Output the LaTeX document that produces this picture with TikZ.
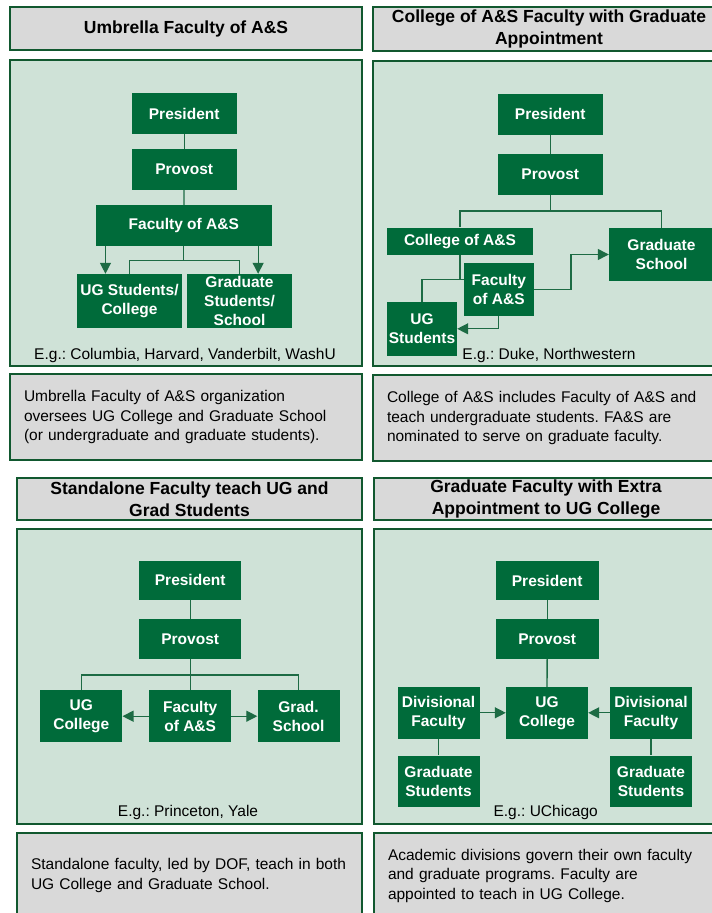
\documentclass[tikz,border=0pt]{standalone}
\usepackage{fontspec}
\setmainfont{Liberation Sans}
\usetikzlibrary{arrows.meta}
\definecolor{dkgreen}{HTML}{006B3A}
\definecolor{bordergreen}{HTML}{11582F}
\definecolor{panelfill}{HTML}{CFE2D7}
\definecolor{titlegray}{HTML}{D9D9D9}
\definecolor{linegreen}{HTML}{1D6B44}
\frenchspacing
\begin{document}
\begin{tikzpicture}[x=1pt,y=-1pt,
  gbox/.style={fill=dkgreen, draw=none, text=white, inner sep=0pt, align=center,
    font=\bfseries\fontsize{15.5}{19}\selectfont},
  titlebox/.style={fill=titlegray, draw=bordergreen, line width=1.5pt, inner sep=0pt, align=center,
    font=\bfseries\fontsize{17.5}{21.5}\selectfont},
  panel/.style={fill=panelfill, draw=bordergreen, line width=1.5pt, inner sep=0pt},
  textbox/.style={fill=titlegray, draw=bordergreen, line width=1.5pt, inner xsep=14pt, inner ysep=0pt,
    align=left, font=\fontsize{15.5}{19.5}\selectfont},
  captext/.style={inner sep=0pt, font=\fontsize{15.5}{19}\selectfont},
  conn/.style={draw=linegreen, line width=1.3pt},
  arr/.style={conn, -{Triangle[width=11pt,length=11pt]}}
]
\useasboundingbox (0,0) rectangle (712,913);

% ===== Top-left =====
\node[titlebox, minimum width=352pt, minimum height=43pt] (tltitle) at (186,28.5) {Umbrella Faculty of A\&S};
\node[panel, minimum width=352pt, minimum height=306pt] (tlpanel) at (186,213) {};
\node[textbox, minimum height=86pt, text width=324pt] (tltext) at (186,417)
  {Umbrella Faculty of A\&S organization\\oversees UG College and Graduate School\\(or undergraduate and graduate students).};

\node[gbox, minimum width=105pt, minimum height=41pt] (tlpres) at (184.2,113.7) {President};
\node[gbox, minimum width=105pt, minimum height=41pt] (tlprov) at (184.2,169.5) {Provost};
\node[gbox, minimum width=175.7pt, minimum height=41pt] (tlfac) at (183.8,225.5) {Faculty of A\&S};
\node[gbox, minimum width=105pt, minimum height=54pt] (tlug) at (129.5,301) {UG Students/\\College};
\node[gbox, minimum width=105pt, minimum height=54pt] (tlgr) at (239.5,301) {Graduate\\Students/\\School};
\coordinate (tlj) at (183.8,260.5);
\draw[conn] (tlpres) -- (tlprov);
\draw[conn] (tlprov) -- (tlfac);
\draw[conn] (tlfac.south) -- (tlj);
\draw[conn] (tlug.north) |- (tlj) -| (tlgr.north);
\coordinate (tla1) at ([xshift=9.7pt]tlfac.south west);
\coordinate (tla2) at ([xshift=-13.7pt]tlfac.south east);
\draw[arr] (tla1) -- (tla1 |- tlug.north);
\draw[arr] (tla2) -- (tla2 |- tlgr.north);
\node[captext] (tlcap) at (185,355) {E.g.: Columbia, Harvard, Vanderbilt, WashU};

% ===== Top-right =====
\node[titlebox, minimum width=352pt, minimum height=44pt] (trtitle) at (549,29) {College of A\&S Faculty with Graduate\\Appointment};
\node[panel, minimum width=352pt, minimum height=305pt] (trpanel) at (549,213.5) {};
\node[textbox, minimum height=86pt, text width=324pt] (trtext) at (549,418)
  {College of A\&S includes Faculty of A\&S and\\teach undergraduate students. FA\&S are\\nominated to serve on graduate faculty.};

\node[gbox, minimum width=105pt, minimum height=41pt] (trpres) at (550.3,114.3) {President};
\node[gbox, minimum width=105pt, minimum height=41pt] (trprov) at (550.3,174.5) {Provost};
\node[gbox, minimum width=146.7pt, minimum height=27.5pt] (trcol) at (460,241.3) {College of A\&S};
\node[gbox, minimum width=105pt, minimum height=53pt] (trgs) at (661.5,254.5) {Graduate\\School};
\node[gbox, minimum width=70pt, minimum height=53.3pt] (trfac) at (498.8,289.3) {Faculty\\of A\&S};
\node[gbox, minimum width=70pt, minimum height=53.7pt] (trug) at (422,328.8) {UG\\Students};
\coordinate (trj) at (550.3,211);
\coordinate (trk) at (460,279.3);
\coordinate (trm) at (571,289.3);
\draw[conn] (trpres) -- (trprov);
\draw[conn] (trprov.south) -- (trj);
\draw[conn] (trcol.north) |- (trj) -| (trgs.north);
\draw[conn] (trcol.south) -- (trk);
\draw[conn] (trfac.west |- trk) -| (trug.north);
\draw[arr] (trfac.south) |- (trug.east);
\draw[arr] (trfac.east) -- (trm) |- (trgs.west);
\node[captext] (trcap) at (549,355) {E.g.: Duke, Northwestern};

% ===== Bottom-left =====
\node[titlebox, minimum width=345pt, minimum height=42pt] (bltitle) at (189.5,499) {Standalone Faculty teach UG and\\Grad Students};
\node[panel, minimum width=345pt, minimum height=295pt] (blpanel) at (189.5,676.5) {};
\node[textbox, minimum height=85pt, text width=317pt] (bltext) at (189.5,875.5)
  {Standalone faculty, led by DOF, teach in both\\UG College and Graduate School.};

\node[gbox, minimum width=102.3pt, minimum height=39.5pt] (blpres) at (190.2,580.4) {President};
\node[gbox, minimum width=102.3pt, minimum height=39.5pt] (blprov) at (190.2,638.8) {Provost};
\node[gbox, minimum width=82pt, minimum height=52.3pt] (blug) at (81.3,716.2) {UG\\College};
\node[gbox, minimum width=82pt, minimum height=52.3pt] (blfac) at (190.2,716.2) {Faculty\\of A\&S};
\node[gbox, minimum width=82pt, minimum height=52.3pt] (blgs) at (298.5,716.2) {Grad.\\School};
\coordinate (blj) at (190.2,675);
\draw[conn] (blpres) -- (blprov);
\draw[conn] (blprov) -- (blfac);
\draw[conn] (blug.north) |- (blj) -| (blgs.north);
\draw[arr] (blfac.west) -- (blug.east);
\draw[arr] (blfac.east) -- (blgs.west);
\node[captext] (blcap) at (188,812) {E.g.: Princeton, Yale};

% ===== Bottom-right =====
\node[titlebox, minimum width=344pt, minimum height=42pt] (brtitle) at (546,499) {Graduate Faculty with Extra\\Appointment to UG College};
\node[panel, minimum width=344pt, minimum height=295pt] (brpanel) at (546,676.5) {};
\node[textbox, minimum height=85pt, text width=316pt] (brtext) at (546,875.5)
  {Academic divisions govern their own faculty\\and graduate programs. Faculty are\\appointed to teach in UG College.};

\node[gbox, minimum width=103pt, minimum height=39.5pt] (brpres) at (547.2,580.5) {President};
\node[gbox, minimum width=103pt, minimum height=39.5pt] (brprov) at (547.2,638.8) {Provost};
\node[gbox, minimum width=82pt, minimum height=51.7pt] (brug) at (547,712.8) {UG\\College};
\node[gbox, minimum width=82pt, minimum height=51.7pt] (brdl) at (438.5,712.8) {Divisional\\Faculty};
\node[gbox, minimum width=82pt, minimum height=51.7pt] (brdr) at (651,712.8) {Divisional\\Faculty};
\node[gbox, minimum width=82pt, minimum height=51.7pt] (brgl) at (438.5,781.5) {Graduate\\Students};
\node[gbox, minimum width=82pt, minimum height=51.7pt] (brgr) at (651,781.5) {Graduate\\Students};
\draw[conn] (brpres) -- (brprov);
\draw[conn] (brprov) -- (brug);
\draw[conn] (brdl) -- (brgl);
\draw[conn] (brdr) -- (brgr);
\draw[arr] (brdl) -- (brug);
\draw[arr] (brdr) -- (brug);
\node[captext] (brcap) at (545.7,812) {E.g.: UChicago};
\end{tikzpicture}
\end{document}
